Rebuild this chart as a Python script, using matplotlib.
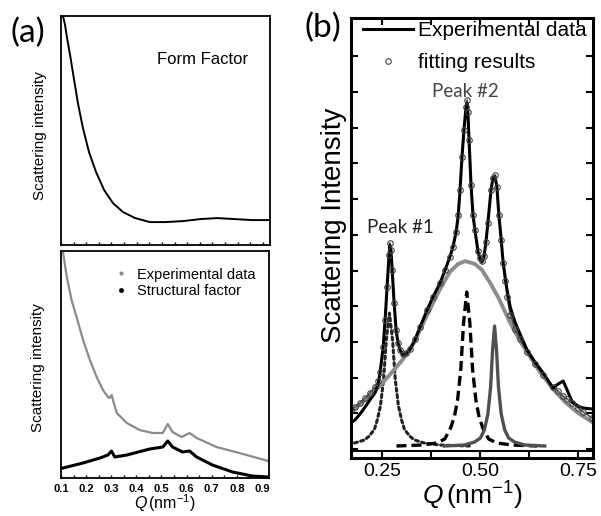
import numpy as np
import matplotlib
matplotlib.use("Agg")
import matplotlib.pyplot as plt
from matplotlib.lines import Line2D
from matplotlib.ticker import MultipleLocator, FormatStrFormatter, NullFormatter

plt.rcParams['font.family'] = ['Liberation Sans', 'DejaVu Sans']
plt.rcParams['mathtext.fontset'] = 'custom'
plt.rcParams['mathtext.rm'] = 'Liberation Sans'
plt.rcParams['mathtext.it'] = 'Liberation Sans:italic'

# ---- panel (a), top: form factor ----
ff_q = [0.108, 0.116, 0.124, 0.136, 0.152, 0.167, 0.187, 0.211, 0.239, 0.271, 0.306,
        0.346, 0.394, 0.453, 0.513, 0.584, 0.652, 0.719, 0.790, 0.858, 0.925]
ff_i = [229, 220, 207, 190, 165, 142, 117, 93, 73, 55, 42,
        33, 27, 23, 23, 24, 26, 27, 26, 25, 25]

# ---- panel (a), bottom: experimental data and structural factor ----
exa_q = [0.108, 0.123, 0.142, 0.162, 0.188, 0.215, 0.242, 0.267, 0.287, 0.294, 0.302,
         0.310, 0.322, 0.362, 0.413, 0.465, 0.505, 0.525, 0.544, 0.580, 0.612, 0.640,
         0.719, 0.810, 0.925]
exa_i = [226, 201, 178, 161, 138, 118, 101, 88, 81, 80, 83,
         75, 65, 55, 48, 45, 45, 54, 46, 41, 45, 40,
         31, 25, 17]
sf_q = [0.108, 0.187, 0.255, 0.287, 0.301, 0.314, 0.362, 0.453, 0.505, 0.525, 0.544,
        0.584, 0.612, 0.640, 0.703, 0.783, 0.862, 0.925]
sf_i = [10, 15, 20, 23, 27, 21, 23, 29, 31, 37, 31,
        26, 27, 21, 13, 6, 2, 1]

# ---- panel (b): experimental data and fit ----
b_q = [0.171, 0.181, 0.194, 0.207, 0.219, 0.232, 0.240, 0.245, 0.253, 0.258, 0.263,
       0.268, 0.270, 0.273, 0.276, 0.281, 0.286, 0.291, 0.296, 0.304, 0.311, 0.321,
       0.334, 0.347, 0.365, 0.380, 0.398, 0.411, 0.423, 0.431, 0.439, 0.444, 0.449,
       0.454, 0.459, 0.464, 0.467, 0.469, 0.472, 0.477, 0.482, 0.487, 0.495, 0.500,
       0.505, 0.510, 0.515, 0.520, 0.528, 0.533, 0.538, 0.543, 0.548, 0.554, 0.559,
       0.564, 0.569, 0.577, 0.589, 0.602, 0.620, 0.640, 0.661, 0.686, 0.699, 0.712,
       0.722, 0.735, 0.750, 0.763, 0.786]
b_exp = [24, 27, 33, 40, 47, 54, 62, 74, 100, 127, 160,
         192, 202, 197, 177, 144, 117, 104, 97, 92, 93, 97,
         107, 120, 137, 150, 164, 177, 190, 200, 215, 230, 257,
         290, 317, 339, 344, 335, 307, 262, 232, 217, 195, 188,
         185, 190, 205, 224, 257, 269, 271, 260, 232, 207, 184,
         170, 157, 140, 125, 113, 97, 85, 74, 59, 63, 66,
         57, 45, 41, 39, 38]
b_fit = [37, 40, 44, 49, 54, 60, 66, 75, 100, 127, 160,
         192, 204, 197, 177, 144, 117, 104, 97, 93, 94, 98,
         108, 120, 137, 150, 164, 177, 190, 200, 215, 232, 257,
         290, 317, 340, 347, 335, 307, 262, 232, 217, 196, 189,
         186, 191, 205, 224, 257, 269, 272, 260, 232, 207, 184,
         166, 150, 132, 118, 108, 95, 83, 72, 60, 56, 51,
         48, 44, 39, 35, 29]

# broad component
broad_q = [0.171, 0.207, 0.247, 0.276, 0.304, 0.334, 0.365, 0.398, 0.423, 0.444, 0.462,
           0.487, 0.505, 0.526, 0.546, 0.564, 0.577, 0.602, 0.628, 0.653, 0.686, 0.717,
           0.750, 0.786]
broad_i = [35, 47, 62, 75, 88, 106, 132, 158, 175, 183, 186,
           183, 177, 164, 150, 135, 124, 106, 90, 75, 58, 45,
           34, 25]

# peak #1 component (dotted)
p1_q = [0.180, 0.205, 0.218, 0.231, 0.238, 0.246, 0.254, 0.261, 0.269, 0.277, 0.284,
        0.292, 0.300, 0.307, 0.320, 0.333, 0.358, 0.397, 0.473]
p1_i = [4, 7, 11, 18, 27, 41, 67, 107, 134, 107, 67,
        41, 27, 18, 11, 7, 4, 2, 1]

# peak #2 component (dashed)
p2_q = [0.287, 0.351, 0.390, 0.410, 0.425, 0.435, 0.443, 0.451, 0.458, 0.466, 0.474,
        0.481, 0.489, 0.497, 0.507, 0.522, 0.543, 0.581, 0.645]
p2_i = [1, 2, 4, 8, 19, 31, 48, 78, 124, 155, 124,
        78, 48, 31, 19, 8, 4, 2, 1]

# third peak component (solid)
p3_q = [0.409, 0.460, 0.486, 0.501, 0.511, 0.520, 0.527, 0.532, 0.537, 0.542, 0.547,
        0.554, 0.563, 0.573, 0.588, 0.614, 0.665]
p3_i = [1, 2, 5, 9, 17, 33, 60, 97, 121, 97, 60,
        33, 17, 9, 5, 2, 1]

fig = plt.figure(figsize=(6.01, 5.16), dpi=100)

ax1 = fig.add_axes([0.1015, 0.525, 0.3475, 0.444])
ax2 = fig.add_axes([0.1015, 0.0736, 0.3461, 0.44])
ax3 = fig.add_axes([0.584, 0.1124, 0.4027, 0.8526])

# (a) top
ax1.plot(ff_q, ff_i, color='black', lw=1.4)
ax1.set_xlim(0.1, 0.928)
ax1.set_ylim(0, 229)
ax1.text(0.68, 0.81, 'Form Factor', transform=ax1.transAxes, fontsize=12,
         ha='center', va='center')
ax1.set_ylabel('Scattering intensity', fontsize=11)
ax1.yaxis.set_label_coords(-0.068, 0.48)

# (a) bottom
ax2.plot(exa_q, exa_i, color='#8a8a8a', lw=1.6)
ax2.plot(sf_q, sf_i, color='black', lw=2.2)
ax2.set_xlim(0.1, 0.928)
ax2.set_ylim(0, 227)
ax2.set_ylabel('Scattering intensity', fontsize=11)
ax2.yaxis.set_label_coords(-0.078, 0.485)
ax2.set_xlabel(r'$Q\,$(nm$^{-1}$)', fontsize=11.5, labelpad=-1)
h_a = [Line2D([], [], ls='none', marker='.', ms=4, color='#8a8a8a'),
       Line2D([], [], ls='none', marker='.', ms=5, color='black')]
ax2.legend(h_a, ['Experimental data', 'Structural factor'], loc='upper left',
           bbox_to_anchor=(0.19, 0.985), frameon=False, fontsize=10.5,
           handlelength=1.0, handletextpad=0.6, labelspacing=0.2)

for ax in (ax1, ax2):
    ax.xaxis.set_major_locator(MultipleLocator(0.1))
    ax.xaxis.set_minor_locator(MultipleLocator(0.05))
    ax.set_yticks([])
    ax.tick_params(axis='x', which='both', direction='in', length=2.5, width=1)
    for s in ax.spines.values():
        s.set_linewidth(1.3)
ax1.xaxis.set_major_formatter(NullFormatter())
ax2.xaxis.set_major_formatter(FormatStrFormatter('%.1f'))
ax2.tick_params(axis='x', labelsize=8, pad=4)
for lab in ax2.get_xticklabels():
    lab.set_fontweight('bold')

# (b)
ax3.axhline(-4, color='black', lw=1.5)
ax3.plot(p1_q, p1_i, color='#222222', lw=2.2, ls=(0, (1, 1.1)), dash_capstyle='round')
ax3.plot(p2_q, p2_i, color='black', lw=2.4, ls=(0, (3, 1.5)))
ax3.plot(p3_q, p3_i, color='#505050', lw=2.4)
ax3.plot(broad_q, broad_i, color='#8c8c8c', lw=2.8)
ax3.plot(b_q, b_fit, color='#555555', lw=1.2)
ax3.plot(b_q, b_exp, color='black', lw=2.2, label='Experimental data')
ax3.plot(b_q, b_fit, ls='none', marker='o', ms=4, mfc='none', mec='#444444', mew=0.8,
         label='fitting results')
ax3.set_xlim(0.171, 0.788)
ax3.set_ylim(-11, 429)
ax3.xaxis.set_major_locator(MultipleLocator(0.25))
ax3.xaxis.set_minor_locator(MultipleLocator(0.125))
ax3.xaxis.set_major_formatter(FormatStrFormatter('%.2f'))
ax3.set_yticks(np.arange(-2, 420, 35.7))
ax3.yaxis.set_major_formatter(NullFormatter())
ax3.tick_params(axis='both', which='both', direction='in', top=True, right=True,
                length=5, width=1.5)
ax3.tick_params(axis='x', labelsize=14, pad=3.5)
for s in ax3.spines.values():
    s.set_linewidth(2.2)
ax3.set_ylabel('Scattering Intensity', fontsize=20)
ax3.yaxis.set_label_coords(-0.018, 0.53)
ax3.set_xlabel(r'$Q\,$(nm$^{-1}$)', fontsize=19, labelpad=0)
ax3.text(0.471, 0.832, 'Peak #2', transform=ax3.transAxes, fontsize=13.5,
         family=['Lato', 'DejaVu Sans'], color='#444444', ha='center', va='center')
ax3.text(0.2025, 0.523, 'Peak #1', transform=ax3.transAxes, fontsize=13.5,
         family=['Lato', 'DejaVu Sans'], color='#222222', ha='center', va='center')
ax3.legend(loc='upper left', bbox_to_anchor=(0.0, 1.021), frameon=False, fontsize=15,
           handlelength=2.4, handletextpad=0.2, labelspacing=0.62, borderaxespad=0.2)

fig.text(0.047, 0.936, '(a)', fontsize=24, family=['Lato', 'DejaVu Sans'],
         ha='center', va='center')
fig.text(0.537, 0.946, '(b)', fontsize=24, family=['Lato', 'DejaVu Sans'],
         ha='center', va='center')

fig.savefig('out.png', dpi=100)
